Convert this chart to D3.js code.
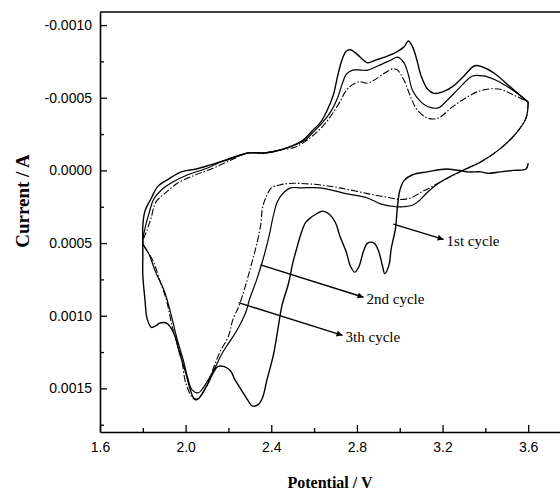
<!DOCTYPE html>
<html>
<head>
<meta charset="utf-8">
<script src="https://cdn.jsdelivr.net/npm/d3@7"></script>
<style>
  html, body { margin: 0; padding: 0; background: #fff; }
  svg { display: block; }
  .tick text { font-family: "Liberation Sans", Arial, sans-serif; font-size: 14px; fill: #000; }
</style>
</head>
<body>
<svg id="chart" width="560" height="498"></svg>
<script>
// ---- data: [potential (V), current (A)] ----
const cycle1 = [
  [3.60,-0.00005],[3.59,-0.00001],[3.53,0.00000],[3.47,0.00001],[3.41,0.00002],[3.38,0.00001],
  [3.32,0.00001],[3.22,-0.00001],[3.13,0.00001],[3.06,0.00003],[3.02,0.00007],[3.00,0.00014],
  [2.99,0.00024],[2.98,0.00040],[2.96,0.00054],[2.95,0.00065],[2.93,0.00071],[2.92,0.00066],
  [2.90,0.00055],[2.88,0.00050],[2.85,0.00050],[2.83,0.00056],[2.81,0.00066],[2.79,0.00070],
  [2.77,0.00066],[2.75,0.00056],[2.72,0.00045],[2.70,0.00036],[2.67,0.00030],[2.64,0.00028],
  [2.61,0.00030],[2.58,0.00033],[2.56,0.00036],[2.54,0.00043],[2.52,0.00053],[2.50,0.00064],
  [2.48,0.00078],[2.45,0.00093],[2.43,0.00110],[2.41,0.00127],[2.38,0.00144],[2.36,0.00156],
  [2.34,0.00161],[2.31,0.00162],[2.29,0.00158],[2.26,0.00151],[2.23,0.00144],[2.21,0.00138],
  [2.18,0.00135],[2.15,0.00135],[2.13,0.00139],[2.11,0.00145],[2.08,0.00153],[2.06,0.00157],
  [2.04,0.00157],[2.02,0.00150],[2.00,0.00139],[1.97,0.00125],[1.95,0.00114],[1.93,0.00108],
  [1.91,0.00105],[1.88,0.00105],[1.86,0.00107],[1.84,0.00108],[1.82,0.00102],[1.81,0.00089],
  [1.80,0.00072],[1.80,0.00058],[1.80,0.00050],
  [1.80,0.00038],[1.81,0.00028],[1.84,0.00019],[1.87,0.00011],[1.92,0.00006],[1.98,0.00001],
  [2.05,-0.00001],[2.12,-0.00004],[2.21,-0.00008],[2.29,-0.00012],[2.37,-0.00012],[2.44,-0.00014],
  [2.50,-0.00017],[2.55,-0.00021],[2.59,-0.00027],[2.63,-0.00033],[2.66,-0.00041],[2.69,-0.00052],
  [2.71,-0.00065],[2.73,-0.00076],[2.75,-0.00082],[2.77,-0.00083],[2.80,-0.00080],[2.83,-0.00076],
  [2.85,-0.00074],[2.89,-0.00076],[2.93,-0.00078],[2.98,-0.00081],[3.02,-0.00085],[3.04,-0.00089],
  [3.06,-0.00085],[3.08,-0.00076],[3.10,-0.00065],[3.13,-0.00056],[3.16,-0.00053],[3.20,-0.00054],
  [3.25,-0.00058],[3.30,-0.00065],[3.35,-0.00072],[3.39,-0.00071],[3.44,-0.00067],[3.52,-0.00057],
  [3.60,-0.00047]
];
const cycle2 = [
  [3.60,-0.00047],[3.59,-0.00036],[3.54,-0.00025],[3.47,-0.00015],[3.38,-0.00006],[3.28,0.00001],
  [3.19,0.00008],[3.13,0.00015],[3.09,0.00021],[3.06,0.00024],[3.02,0.00025],[2.98,0.00025],
  [2.91,0.00023],[2.85,0.00019],[2.75,0.00016],[2.63,0.00012],[2.54,0.00012],[2.49,0.00012],
  [2.46,0.00015],[2.43,0.00021],[2.41,0.00031],[2.39,0.00045],[2.36,0.00062],[2.33,0.00076],
  [2.30,0.00088],[2.28,0.00098],[2.24,0.00110],[2.20,0.00119],[2.17,0.00126],[2.14,0.00135],
  [2.11,0.00143],[2.08,0.00150],[2.06,0.00153],[2.03,0.00151],[2.01,0.00143],[1.99,0.00131],
  [1.96,0.00116],[1.93,0.00098],[1.90,0.00083],[1.86,0.00070],[1.83,0.00058],[1.80,0.00050],
  [1.81,0.00040],[1.83,0.00029],[1.85,0.00020],[1.89,0.00013],[1.94,0.00008],[2.01,0.00003],
  [2.09,-0.00001],[2.20,-0.00008],[2.29,-0.00012],[2.37,-0.00012],[2.44,-0.00014],[2.50,-0.00017],
  [2.56,-0.00021],[2.60,-0.00027],[2.64,-0.00033],[2.68,-0.00041],[2.71,-0.00050],[2.73,-0.00059],
  [2.75,-0.00066],[2.78,-0.00069],[2.82,-0.00069],[2.85,-0.00069],[2.90,-0.00072],[2.96,-0.00076],
  [2.99,-0.00078],[3.02,-0.00074],[3.04,-0.00066],[3.06,-0.00055],[3.10,-0.00047],[3.13,-0.00044],
  [3.18,-0.00043],[3.22,-0.00048],[3.28,-0.00057],[3.34,-0.00065],[3.39,-0.00065],[3.45,-0.00062],
  [3.53,-0.00055],[3.60,-0.00047]
];
const cycle3 = [
  [3.60,-0.00047],[3.59,-0.00036],[3.54,-0.00025],[3.47,-0.00015],[3.38,-0.00006],[3.28,0.00001],
  [3.19,0.00008],[3.14,0.00012],[3.10,0.00015],[3.05,0.00019],[3.00,0.00020],[2.96,0.00019],
  [2.85,0.00016],[2.72,0.00012],[2.63,0.00010],[2.54,0.00009],[2.48,0.00009],[2.44,0.00010],
  [2.40,0.00012],[2.38,0.00017],[2.36,0.00025],[2.35,0.00038],[2.33,0.00052],[2.31,0.00063],
  [2.29,0.00074],[2.27,0.00084],[2.25,0.00093],[2.22,0.00103],[2.20,0.00114],[2.16,0.00125],
  [2.13,0.00136],[2.10,0.00148],[2.07,0.00155],[2.05,0.00158],[2.03,0.00156],[2.00,0.00146],
  [1.98,0.00129],[1.94,0.00109],[1.91,0.00089],[1.88,0.00076],[1.85,0.00063],[1.82,0.00055],
  [1.80,0.00050],
  [1.82,0.00041],[1.84,0.00032],[1.86,0.00022],[1.91,0.00015],[1.96,0.00009],[2.03,0.00004],
  [2.12,-0.00001],[2.21,-0.00007],[2.29,-0.00012],[2.37,-0.00012],[2.44,-0.00014],[2.51,-0.00016],
  [2.56,-0.00020],[2.61,-0.00026],[2.65,-0.00032],[2.69,-0.00040],[2.72,-0.00047],[2.75,-0.00055],
  [2.78,-0.00059],[2.81,-0.00061],[2.85,-0.00060],[2.88,-0.00062],[2.93,-0.00067],[2.97,-0.00070],
  [2.99,-0.00069],[3.02,-0.00062],[3.05,-0.00051],[3.08,-0.00042],[3.13,-0.00036],[3.18,-0.00036],
  [3.24,-0.00043],[3.31,-0.00050],[3.38,-0.00055],[3.46,-0.00056],[3.53,-0.00052],[3.60,-0.00047]
];
const potentialTicks = [1.6, 2.0, 2.4, 2.8, 3.2, 3.6];
const potentialMinor = [1.8, 2.2, 2.6, 3.0, 3.4];
const currentTicks = [-0.0010, -0.0005, 0.0000, 0.0005, 0.0010, 0.0015];
const currentMinor = [-0.00075, -0.00025, 0.00025, 0.00075, 0.00125, 0.00175];
const cycleLabels = ["1st cycle", "2nd cycle", "3th cycle"];
// arrow start / tip in data units
const arrowFrom = [[2.97, 0.00037], [2.35, 0.00065], [2.247, 0.00091]];
const arrowTo   = [[3.205, 0.000475], [2.831, 0.000873], [2.733, 0.001135]];
const xLabel = "Potential / V";
const yLabel = "Current / A";

// ---- drawing ----
const svg = d3.select("#chart");
const x = d3.scaleLinear().domain([1.6, 3.8]).range([100, 571]);
const y = d3.scaleLinear().domain([-0.00109, 0.0018]).range([12, 432]);

svg.append("defs").append("marker")
  .attr("id", "arrow").attr("viewBox", "0 0 10 10")
  .attr("refX", 10).attr("refY", 5)
  .attr("markerWidth", 7).attr("markerHeight", 6)
  .attr("markerUnits", "userSpaceOnUse")
  .attr("orient", "auto")
  .append("path").attr("d", "M0,0 L10,5 L0,10 z").attr("fill", "#000");

const fmtY = d => (Math.abs(d) < 1e-12 ? 0 : d).toFixed(4);

// axes
svg.append("g").attr("transform", `translate(0,${y.range()[1]})`)
  .call(d3.axisBottom(x).tickValues(potentialTicks).tickFormat(d => d.toFixed(1))
    .tickSize(-7).tickSizeOuter(0).tickPadding(10));
svg.append("g").attr("transform", `translate(0,${y.range()[1]})`)
  .call(d3.axisBottom(x).tickValues(potentialMinor).tickFormat("").tickSize(-4).tickSizeOuter(0))
  .select(".domain").remove();

svg.append("g").attr("transform", `translate(${x.range()[0]},0)`)
  .call(d3.axisLeft(y).tickValues(currentTicks).tickFormat(fmtY)
    .tickSize(-7).tickSizeOuter(0).tickPadding(8));
svg.append("g").attr("transform", `translate(${x.range()[0]},0)`)
  .call(d3.axisLeft(y).tickValues(currentMinor).tickFormat("").tickSize(-4).tickSizeOuter(0))
  .select(".domain").remove();

svg.selectAll(".domain").attr("stroke", "#000").attr("stroke-width", 1.6);
svg.selectAll(".tick line").attr("stroke", "#000").attr("stroke-width", 1.3);

// top & right frame
svg.append("line").attr("x1", x.range()[0]).attr("x2", x.range()[1])
  .attr("y1", y.range()[0]).attr("y2", y.range()[0])
  .attr("stroke", "#000").attr("stroke-width", 1.6);
svg.append("line").attr("x1", x.range()[1]).attr("x2", x.range()[1])
  .attr("y1", y.range()[0]).attr("y2", y.range()[1])
  .attr("stroke", "#000").attr("stroke-width", 1.6);

// titles
svg.append("text").attr("x", 330).attr("y", 488).attr("text-anchor", "middle")
  .attr("font-family", "'Liberation Serif', 'Times New Roman', serif")
  .attr("font-weight", "bold").attr("font-size", 16).text(xLabel);
svg.append("text").attr("transform", "translate(29,201) rotate(-90)")
  .attr("text-anchor", "middle")
  .attr("font-family", "'Liberation Serif', 'Times New Roman', serif")
  .attr("font-weight", "bold").attr("font-size", 19).text(yLabel);

// curves
const line = d3.line().x(d => x(d[0])).y(d => y(d[1])).curve(d3.curveCatmullRom.alpha(0.5));
const cycles = [cycle1, cycle2, cycle3];
const widths = [1.4, 1.2, 1.1];
const dashes = [null, null, "7,2,1.5,2"];
svg.append("g").selectAll("path").data(cycles).join("path")
  .attr("d", line)
  .attr("fill", "none")
  .attr("stroke", "#000")
  .attr("stroke-width", (d, i) => widths[i])
  .attr("stroke-dasharray", (d, i) => dashes[i])
  .attr("stroke-linejoin", "round");

// annotations
const ann = svg.append("g");
cycleLabels.forEach((lab, i) => {
  ann.append("line")
    .attr("x1", x(arrowFrom[i][0])).attr("y1", y(arrowFrom[i][1]))
    .attr("x2", x(arrowTo[i][0])).attr("y2", y(arrowTo[i][1]))
    .attr("stroke", "#000").attr("stroke-width", 1.4)
    .attr("marker-end", "url(#arrow)");
  ann.append("text")
    .attr("x", x(arrowTo[i][0]) + 3).attr("y", y(arrowTo[i][1]) + 7)
    .attr("font-family", "'Liberation Serif', 'Times New Roman', serif")
    .attr("font-size", 15).text(lab);
});
</script>
</body>
</html>
